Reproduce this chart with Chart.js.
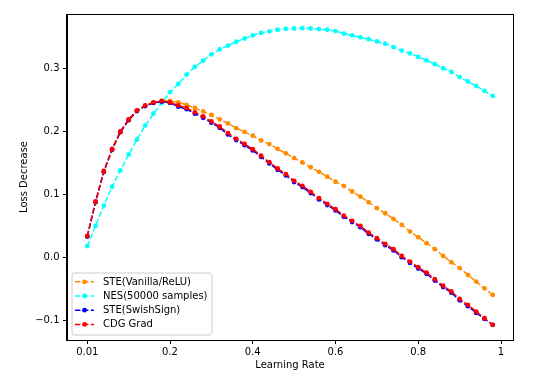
<!DOCTYPE html>
<html>
<head>
<meta charset="utf-8">
<script src="https://cdn.jsdelivr.net/npm/chart.js@4/dist/chart.umd.min.js"></script>
<style>
  html, body { margin: 0; padding: 0; background: #fff; }
  #wrap { width: 533px; height: 380px; position: relative; }
</style>
</head>
<body>
<div id="wrap"><canvas id="c" width="533" height="380"></canvas></div>
<script>
// x positions (first one is labelled 0.01 on the axis)
const lrPos = [0.00,0.02,0.04,0.06,0.08,0.10,0.12,0.14,0.16,0.18,
               0.20,0.22,0.24,0.26,0.28,0.30,0.32,0.34,0.36,0.38,
               0.40,0.42,0.44,0.46,0.48,0.50,0.52,0.54,0.56,0.58,
               0.60,0.62,0.64,0.66,0.68,0.70,0.72,0.74,0.76,0.78,
               0.80,0.82,0.84,0.86,0.88,0.90,0.92,0.94,0.96,0.98];
const xTickValues = [0, 0.2, 0.4, 0.6, 0.8, 1];
const xTickLabels = ['0.01', '0.2', '0.4', '0.6', '0.8', '1'];
const yTickValues = [-0.1, 0.0, 0.1, 0.2, 0.3];

const steVanilla = [0.033,0.087,0.135,0.170,0.198,0.217,0.232,0.240,0.245,0.248,
                    0.248,0.246,0.242,0.237,0.2315,0.226,0.219,0.2125,0.205,0.199,
                    0.193,0.1855,0.1797,0.172,0.165,0.1575,0.1505,0.143,0.1357,0.128,
                    0.120,0.1135,0.1045,0.0965,0.0876,0.078,0.070,0.061,0.0516,0.041,
                    0.032,0.0225,0.013,0.0024,-0.0077,-0.017,-0.0278,-0.0384,-0.049,-0.0595];
const nes = [0.018,0.050,0.082,0.112,0.138,0.163,0.187,0.209,0.228,0.245,
             0.262,0.275,0.290,0.302,0.312,0.322,0.330,0.336,0.342,0.347,
             0.352,0.356,0.3585,0.361,0.3625,0.363,0.3635,0.363,0.362,0.361,
             0.359,0.355,0.352,0.349,0.346,0.3425,0.339,0.3335,0.328,0.3235,
             0.318,0.3125,0.3065,0.300,0.294,0.286,0.279,0.272,0.264,0.256];
const steSwish = [0.033,0.088,0.136,0.171,0.199,0.218,0.232,0.240,0.245,0.247,
                  0.245,0.239,0.235,0.228,0.2215,0.2136,0.2056,0.195,0.186,0.178,
                  0.1697,0.1595,0.149,0.139,0.130,0.1195,0.1115,0.102,0.092,0.083,
                  0.0745,0.0644,0.056,0.048,0.0374,0.0285,0.0194,0.011,0.0004,-0.0087,
                  -0.0176,-0.026,-0.0366,-0.047,-0.056,-0.068,-0.0774,-0.088,-0.0975,-0.107];
const cdgGrad = [0.034,0.089,0.137,0.172,0.200,0.219,0.233,0.241,0.246,0.248,
                 0.246,0.241,0.237,0.230,0.2235,0.2156,0.2076,0.197,0.188,0.180,
                 0.1717,0.1615,0.151,0.141,0.132,0.1215,0.1135,0.104,0.094,0.085,
                 0.0765,0.0664,0.058,0.050,0.0394,0.0305,0.0214,0.013,0.0024,-0.0067,
                 -0.0156,-0.024,-0.0346,-0.045,-0.054,-0.066,-0.0754,-0.086,-0.0965,-0.107];

const seriesNames = ['STE(Vanilla/ReLU)', 'NES(50000 samples)', 'STE(SwishSign)', 'CDG Grad'];
const seriesColors = ['#ff8c00', '#00ffff', '#0000ff', '#ff0000'];
const seriesValues = [steVanilla, nes, steSwish, cdgGrad];

const FONT = 'DejaVu Sans';
const dash = [5.5, 2.4];

const datasets = seriesValues.map((vals, k) => ({
  label: seriesNames[k],
  data: vals.map((v, i) => ({x: lrPos[i], y: v})),
  borderColor: seriesColors[k],
  backgroundColor: seriesColors[k],
  borderWidth: 1.5,
  borderDash: dash,
  pointRadius: 2.4,
  pointBorderWidth: 0,
  pointBackgroundColor: seriesColors[k],
  tension: 0,
  order: 4 - k
}));

const framePlugin = {
  id: 'frame',
  afterDraw(chart) {
    const {ctx, chartArea: a} = chart;
    ctx.save();
    // legend
    const lx = 72, ly = 273, lw = 140, lh = 62, r = 2.5;
    ctx.beginPath();
    ctx.moveTo(lx + r, ly);
    ctx.lineTo(lx + lw - r, ly); ctx.quadraticCurveTo(lx + lw, ly, lx + lw, ly + r);
    ctx.lineTo(lx + lw, ly + lh - r); ctx.quadraticCurveTo(lx + lw, ly + lh, lx + lw - r, ly + lh);
    ctx.lineTo(lx + r, ly + lh); ctx.quadraticCurveTo(lx, ly + lh, lx, ly + lh - r);
    ctx.lineTo(lx, ly + r); ctx.quadraticCurveTo(lx, ly, lx + r, ly);
    ctx.closePath();
    ctx.fillStyle = 'rgba(255,255,255,0.8)';
    ctx.fill();
    ctx.strokeStyle = '#cccccc';
    ctx.lineWidth = 1;
    ctx.stroke();
    ctx.font = '10px "' + FONT + '"';
    ctx.textBaseline = 'middle';
    ctx.textAlign = 'left';
    seriesNames.forEach((name, k) => {
      const y = 281.8 + k * 14.2;
      ctx.strokeStyle = seriesColors[k];
      ctx.lineWidth = 1.5;
      ctx.setLineDash(dash);
      ctx.beginPath();
      ctx.moveTo(75, y); ctx.lineTo(94, y);
      ctx.stroke();
      ctx.setLineDash([]);
      ctx.fillStyle = seriesColors[k];
      ctx.beginPath();
      ctx.arc(84.5, y, 2.4, 0, Math.PI * 2);
      ctx.fill();
      ctx.fillStyle = '#000';
      ctx.fillText(name, 103, y + 0.5);
    });
    // frame
    ctx.strokeStyle = '#000';
    ctx.lineWidth = 1;
    ctx.strokeRect(Math.round(a.left) - 0.5, Math.round(a.top) + 0.5,
                   Math.round(a.right - a.left) + 1, Math.round(a.bottom - a.top));
    ctx.restore();
  }
};

new Chart(document.getElementById('c'), {
  type: 'line',
  data: { datasets },
  options: {
    responsive: false,
    animation: false,
    devicePixelRatio: 1,
    layout: { padding: { left: 0, right: 20, top: 14, bottom: 0 } },
    plugins: { legend: { display: false }, tooltip: { enabled: false } },
    scales: {
      x: {
        type: 'linear',
        min: -0.049,
        max: 1.029,
        afterBuildTicks: (s) => { s.ticks = xTickValues.map(v => ({value: v})); },
        afterFit: (s) => { s.height = 40; },
        ticks: {
          color: '#000',
          font: { family: FONT, size: 10 },
          padding: 2,
          maxRotation: 0,
          autoSkip: false,
          callback: (v) => { const i = xTickValues.indexOf(v); return i >= 0 ? xTickLabels[i] : ''; }
        },
        grid: { drawOnChartArea: false, drawTicks: true, tickLength: 4, tickColor: '#000' },
        border: { display: true, color: '#000' },
        title: { display: true, text: 'Learning Rate', color: '#000',
                 font: { family: FONT, size: 10 }, padding: { top: 0, bottom: 9 } }
      },
      y: {
        type: 'linear',
        min: -0.131,
        max: 0.386,
        afterBuildTicks: (s) => { s.ticks = yTickValues.map(v => ({value: v})); },
        afterFit: (s) => { s.width = 67; },
        ticks: {
          color: '#000',
          font: { family: FONT, size: 10 },
          padding: 3.5,
          callback: (v) => v.toFixed(1).replace('-', '\u2212')
        },
        grid: { drawOnChartArea: false, drawTicks: true, tickLength: 4, tickColor: '#000' },
        border: { display: true, color: '#000' },
        title: { display: true, text: 'Loss Decrease', color: '#000',
                 font: { family: FONT, size: 10 }, padding: { top: 18, bottom: 0 } }
      }
    }
  },
  plugins: [framePlugin]
});
</script>
</body>
</html>
